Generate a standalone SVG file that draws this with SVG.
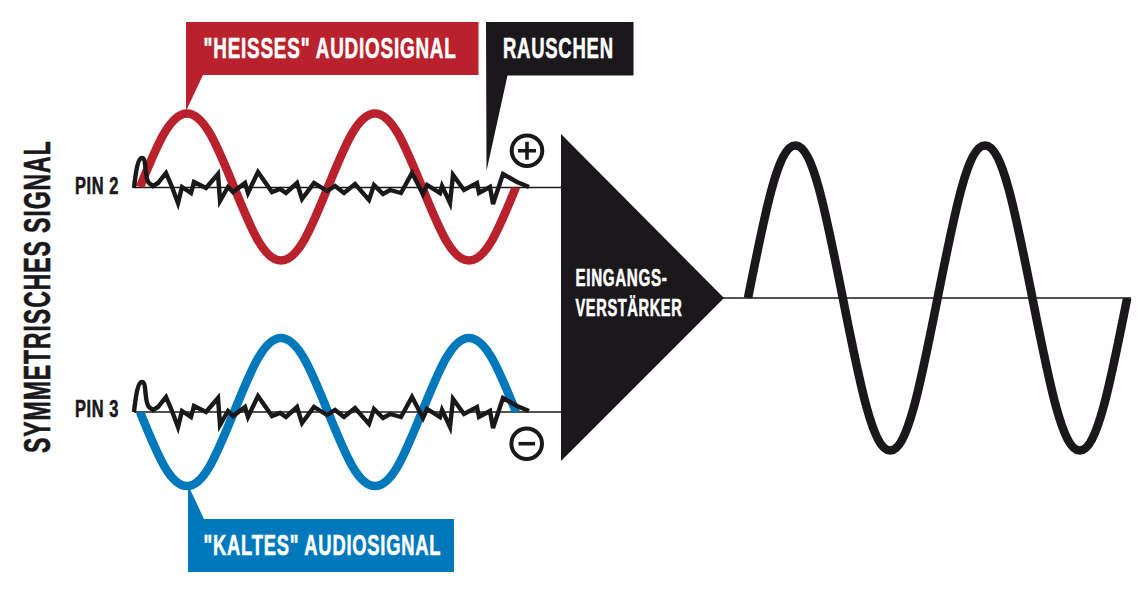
<svg xmlns="http://www.w3.org/2000/svg" xmlns:xlink="http://www.w3.org/1999/xlink" width="1146" height="591" viewBox="0 0 1146 591">
<style>
text{font-family:"Liberation Sans",Arial,sans-serif;font-weight:700}
.w{fill:#fff;stroke:#fff;stroke-width:.6}.k{fill:#1a181b;stroke:#1a181b;stroke-width:.6}
.lbl{font-size:29px;letter-spacing:1.2px}.amp{font-size:24px;letter-spacing:1px}.pin{font-size:23px;letter-spacing:.8px}
.ttl{font-size:37px;letter-spacing:1.5px}
.wave{fill:none;stroke-width:8.6}
.noise{fill:none;stroke:#1a181b;stroke-width:4.4;stroke-linejoin:miter;stroke-miterlimit:4}
.line{stroke:#1a181b;stroke-width:1.6;fill:none}
.ring{fill:none;stroke:#1a181b;stroke-width:4}
.sign{stroke:#1a181b;stroke-width:3.6;fill:none}
</style>
<defs>
<clipPath id="clipRed"><rect x="130" y="100" width="20" height="87.5"/><rect x="150" y="100" width="350" height="200"/><rect x="500" y="187.500" width="30" height="100"/></clipPath>
<clipPath id="clipBlue"><rect x="130" y="412" width="20" height="90"/><rect x="150" y="325" width="350" height="175"/><rect x="500" y="325" width="30" height="87"/></clipPath>
<clipPath id="clipOut"><rect x="740" y="130" width="60" height="168"/><rect x="800" y="130" width="300" height="340"/><rect x="1100" y="298" width="35" height="172"/></clipPath>
<path id="noise" d="M134,188 C136,170 138,158 142,158 C147,158 144,178 149,183 L153,186 L158,183 L166,173 L172,187 L178,203 L182,187 L191,193 L194,182 L206,188 L218,174 L220,201 L228,187 L233,192 L245,183 L248,193 L258,172 L272,192 L280,189 L286,193 L297,183 L302,199 L314,183 L327,191 L335,186 L344,193 L355,184 L369,200 L374,185 L383,194 L390,190 L401,193 L412,173 L423,194 L427,185 L440,193 L442,186 L450,203 L453,175 L464,190 L477,183 L479,193 L490,187 L493,204 L503,174 L517,182 L529,187"/>
</defs>

<g id="connectors">
<line class="line" x1="134" y1="187.500" x2="562" y2="187.500"/>
<line class="line" x1="134" y1="412" x2="562" y2="412"/>
<line class="line" x1="723" y1="298" x2="1131" y2="298"/>
</g>

<g id="signal-hot">
<path class="wave" stroke="#b9222d" clip-path="url(#clipRed)" d="M140,187c17.100,-42 29.900,-73.500 47,-73.500c17.100,0 29.900,31.500 47,73.500c17.100,42 29.900,73.500 47,73.500c17.100,0 29.900,-31.500 47,-73.500c17.100,-42 29.900,-73.500 47,-73.500c17.100,0 29.900,31.500 47,73.500c17.100,42 29.900,73.500 47,73.500c17.100,0 29.900,-31.500 47,-73.500"/>
<use xlink:href="#noise" href="#noise" class="noise"/>
</g>
<g id="signal-cold">
<path class="wave" stroke="#0079bc" clip-path="url(#clipBlue)" d="M140,412c17.100,42 29.900,74 47,74c17.100,0 29.900,-32 47,-74c17.100,-42 29.900,-74 47,-74c17.100,0 29.900,32 47,74c17.100,42 29.900,74 47,74c17.100,0 29.900,-32 47,-74c17.100,-42 29.900,-74 47,-74c17.100,0 29.900,32 47,74"/>
<use xlink:href="#noise" href="#noise" class="noise" transform="translate(0,224)"/>
</g>
<g id="signal-out">
<path class="wave" stroke="#1a181b" clip-path="url(#clipOut)" d="M748,298c17.300,-87.200 30.100,-152.500 47.400,-152.500c17.300,0 30.100,65.300 47.400,152.500c17.300,87.200 30.100,152.500 47.400,152.500c17.300,0 30.100,-65.300 47.400,-152.500c17.300,-87.200 30.100,-152.500 47.400,-152.500c17.300,0 30.100,65.300 47.400,152.500c17.300,87.200 30.100,152.500 47.400,152.500c17.300,0 30.100,-65.300 47.400,-152.500"/>
</g>

<g id="label-hot">
<path fill="#b9222d" d="M186,22H478.500V75H203L187,109H186Z"/>
<text class="w lbl" transform="translate(203.500,58) scale(.652,1)">"HEISSES" AUDIOSIGNAL</text>
</g>
<g id="label-noise">
<path fill="#1a181b" d="M486,22H633.500V75.500H507.500L486.500,171Z"/>
<text class="w lbl" transform="translate(503,58) scale(.637,1)">RAUSCHEN</text>
</g>
<g id="label-cold">
<path fill="#0079bc" d="M188,572V489H190L204,519H454V572Z"/>
<text class="w lbl" transform="translate(203.500,554.500) scale(.634,1)">"KALTES" AUDIOSIGNAL</text>
</g>

<g id="amplifier">
<path fill="#1a181b" d="M561,134L724,298L561,461Z"/>
<text class="w amp" transform="translate(575.500,286) scale(.634,1)">EINGANGS-</text>
<text class="w amp" transform="translate(575.500,315.500) scale(.61,1)">VERSTÄRKER</text>
</g>

<g id="plus">
<circle class="ring" cx="527" cy="150.700" r="15.300"/>
<path class="sign" d="M518,150.700H536M527,141.700V159.700"/>
</g>
<g id="minus">
<circle class="ring" cx="526.700" cy="443.700" r="15.300"/>
<path class="sign" d="M518.500,443.700H535"/>
</g>

<g id="pin2"><text class="k pin" transform="translate(75,194) scale(.715,1)">PIN 2</text></g>
<g id="pin3"><text class="k pin" transform="translate(75,417) scale(.715,1)">PIN 3</text></g>
<g id="title"><text class="k ttl" transform="translate(50,453) rotate(-90) scale(.622,1)">SYMMETRISCHES SIGNAL</text></g>
</svg>
